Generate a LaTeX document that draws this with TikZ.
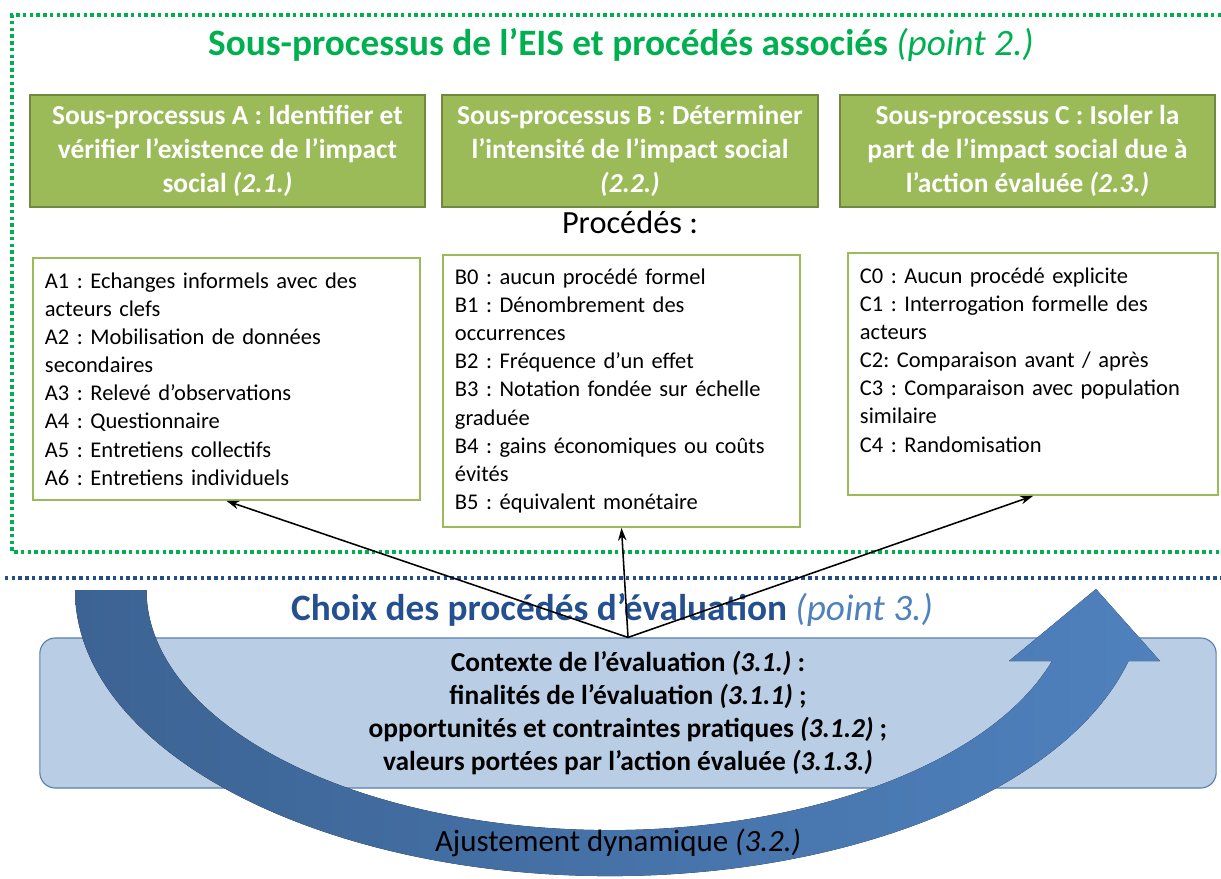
\documentclass[tikz,border=0pt]{standalone}
\usepackage{fontspec}
\setmainfont{Carlito}
\usetikzlibrary{arrows.meta}
\frenchspacing
\definecolor{eisgreen}{HTML}{00B050}
\definecolor{boxgreen}{HTML}{9BBB59}
\definecolor{boxgreendark}{HTML}{71893F}
\definecolor{ctxfill}{HTML}{B9CDE5}
\definecolor{ctxline}{HTML}{5A7FAE}
\definecolor{choixblue}{HTML}{25508F}
\definecolor{choixlight}{HTML}{4F81BD}
\definecolor{navy}{HTML}{254E86}
\definecolor{arrowdark}{HTML}{3C6393}
\definecolor{arrowlight}{HTML}{4F81BD}

\begin{document}
\begin{tikzpicture}[x=0.025cm, y=-0.025cm,
    sousproc/.style={draw=boxgreendark, line width=1pt, fill=boxgreen, text=white, align=center,
        font=\fontsize{19.5}{24}\selectfont\bfseries, minimum height=2.8cm, inner sep=0pt},
    procbox/.style={draw=boxgreen, line width=1.3pt, fill=white, align=left,
        font=\fontsize{16}{20}\selectfont, inner sep=0.3cm},
    link/.style={-{Stealth[length=9pt,width=6pt]}, line width=1.1pt, black},
    dotline/.style={line width=2.2pt, dash pattern=on 2.4pt off 2.4pt}]
    \useasboundingbox (0,0) rectangle (1221,879);
    \draw[dotline, eisgreen] (1221,15) -- (12,15) -- (12,552) -- (1221,552);
    \draw[dotline, navy] (5,578) -- (1221,578);

    \node[font=\fontsize{26.5}{30}\selectfont, text=eisgreen] (title) at (621,45)
        {\bfseries Sous-processus de l’EIS et procédés associés \mdseries\itshape(point 2.)};

    \node[sousproc, minimum width=9.875cm] (grA) at (227.5,151)
        {Sous-processus A : Identifier et\\vérifier l’existence de l’impact\\social \textit{(2.1.)}};
    \node[sousproc, minimum width=9.4cm] (grB) at (630,151)
        {Sous-processus B : Déterminer\\l’intensité de l’impact social\\\textit{(2.2.)}};
    \node[sousproc, minimum width=9.375cm] (grC) at (1027.5,151)
        {Sous-processus C : Isoler la\\part de l’impact social due à\\l’action évaluée \textit{(2.3.)}};

    \node[font=\fontsize{23}{26}\selectfont] (procTitle) at (630,222) {Procédés :};

    \node[procbox, text width=9.075cm, minimum height=6.05cm] (procA) at (226.5,379)
        {A1 : Echanges informels avec des\\acteurs clefs\\A2 : Mobilisation de données\\secondaires\\A3 : Relevé d’observations\\A4 : Questionnaire\\A5 : Entretiens collectifs\\A6 : Entretiens individuels};
    \node[procbox, text width=8.325cm, minimum height=6.8cm] (procB) at (621.5,391)
        {B0 : aucun procédé formel\\B1 : Dénombrement des\\occurrences\\B2 : Fréquence d’un effet\\B3 : Notation fondée sur échelle\\graduée\\B4 : gains économiques ou coûts\\évités\\B5 : équivalent monétaire};
    \node[procbox, text width=8.65cm, minimum height=6.05cm] (procC) at (1033,374)
        {C0 : Aucun procédé explicite\\C1 : Interrogation formelle des\\acteurs\\C2: Comparaison avant / après\\C3 : Comparaison avec population\\similaire\\C4 : Randomisation\\\mbox{}};

    \node[font=\fontsize{26.5}{30}\selectfont\bfseries] (choix) at (612,610)
        {\textcolor{choixblue}{Choix des procédés d’évaluation} \textcolor{choixlight}{\mdseries\itshape(point 3.)}};

    \node[draw=ctxline, line width=0.8pt, fill=ctxfill, rounded corners=11pt, minimum width=29.4cm,
        minimum height=3.75cm, align=center, font=\fontsize{19.5}{23.5}\selectfont\bfseries] (ctx) at (628,713)
        {Contexte de l’évaluation \textit{(3.1.)} :\\finalités de l’évaluation \textit{(3.1.1)} ;\\opportunités et contraintes pratiques \textit{(3.1.2)} ;\\valeurs portées par l’action évaluée \textit{(3.1.3.)}};

    \draw[link] (ctx.north) -- (procA.south);
    \draw[link] (ctx.north) -- (procB.south);
    \draw[link] (ctx.north) -- (procC.south);

    \fill[left color=arrowdark, right color=arrowlight]
        (75,590) arc[start angle=180, end angle=345.6, x radius=13.375cm, y radius=7.15cm]
        -- (1160,661) -- (1096,589) -- (1009,661) -- (1052,661)
        arc[start angle=342.8, end angle=180, x radius=11.575cm, y radius=6cm] -- cycle;

    \node[font=\fontsize{22}{26}\selectfont] (ajust) at (618,843) {Ajustement dynamique \textit{(3.2.)}};
\end{tikzpicture}
\end{document}
